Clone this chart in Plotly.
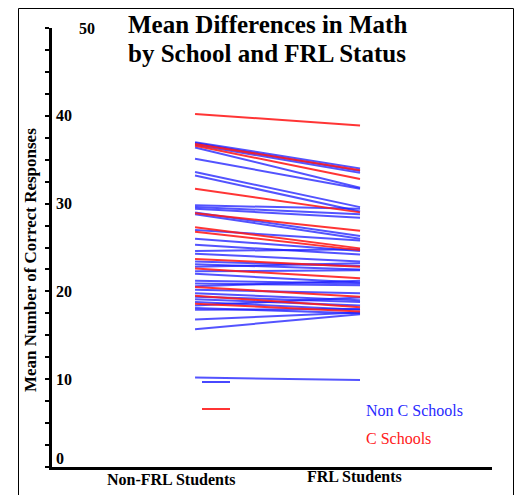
import plotly.graph_objects as go

# ---- data ----
groups = ["Non-FRL Students", "FRL Students"]

# Non C Schools: [Non-FRL mean, FRL mean]
non_c_nonfrl = [37.0, 36.9, 36.7, 36.4, 35.1, 33.6, 33.2, 29.8, 29.6, 29.4, 29.0, 28.8,
                27.0, 26.0, 25.3, 24.6, 24.3, 23.4, 23.1, 22.8, 22.3, 22.0, 21.2, 20.9,
                20.6, 20.2, 19.8, 19.4, 19.1, 18.8, 18.4, 18.1, 17.9, 16.8, 15.7, 10.2]
non_c_frl = [34.0, 33.7, 33.5, 31.8, 31.7, 29.6, 29.1, 29.4, 28.8, 28.4, 26.3, 26.0,
             25.8, 24.6, 24.2, 24.8, 23.4, 22.9, 22.5, 23.2, 22.4, 21.0, 20.9, 20.7,
             21.2, 19.8, 19.0, 18.8, 18.4, 17.9, 19.3, 17.5, 18.0, 17.6, 17.4, 9.9]

# C Schools
c_nonfrl = [40.2, 36.8, 36.6, 31.7, 28.9, 27.3, 26.8, 23.7, 22.6, 20.5, 19.5, 18.6]
c_frl = [38.9, 33.8, 32.8, 29.0, 26.9, 24.9, 24.7, 22.8, 21.5, 19.4, 18.2, 17.7]

y_tick_labels = [0, 10, 20, 30, 40, 50]
y_minor_ticks = [i * 2.5 for i in range(21)]

legend_names = ["Non C Schools", "C Schools"]
title_lines = ["Mean Differences in Math", "by School and FRL Status"]

# ---- styling ----
W, H = 518, 495
L, R, T, B = 52, 26, 28, 28
PW, PH = W - L - R, H - T - B
BLUE = "rgba(25,25,255,0.75)"
RED = "rgba(255,25,25,0.88)"
FONT = "Liberation Serif"


def px_x(px):
    return (px - L) / PW


def px_y(py):
    return (H - B - py) / PH


fig = go.Figure()
xs = [0, 1]
for a, b in zip(non_c_nonfrl, non_c_frl):
    fig.add_trace(go.Scatter(x=xs, y=[a, b], mode="lines",
                             line=dict(color=BLUE, width=2), showlegend=False,
                             hoverinfo="skip"))
for a, b in zip(c_nonfrl, c_frl):
    fig.add_trace(go.Scatter(x=xs, y=[a, b], mode="lines",
                             line=dict(color=RED, width=2), showlegend=False,
                             hoverinfo="skip"))

annotations = []
# title lines
for line, cy in zip(title_lines, [25, 53]):
    annotations.append(dict(text=line, x=px_x(267), y=px_y(cy), xref="paper", yref="paper",
                            xanchor="center", yanchor="middle", showarrow=False,
                            font=dict(family=FONT, size=25, color="black", weight="bold")))
# y tick labels
for v in y_tick_labels:
    if v == 50:
        xa, ys = px_x(77), 0
    elif v == 0:
        xa, ys = px_x(54), 9
    else:
        xa, ys = px_x(54), 0
    annotations.append(dict(text=str(v), x=xa, y=v, xref="paper", yref="y",
                            xanchor="left", yanchor="middle", yshift=ys, showarrow=False,
                            font=dict(family=FONT, size=16, color="black", weight="bold")))
# x category labels
for name, cx, cy in zip(groups, [171, 354], [479, 476]):
    annotations.append(dict(text=name, x=px_x(cx), y=px_y(cy), xref="paper", yref="paper",
                            xanchor="center", yanchor="middle", showarrow=False,
                            font=dict(family=FONT, size=16, color="black", weight="bold")))
# y axis title
annotations.append(dict(text="Mean Number of Correct Responses", x=px_x(30), y=px_y(260),
                        xref="paper", yref="paper", textangle=-90, showarrow=False,
                        xanchor="center", yanchor="middle",
                        font=dict(family=FONT, size=17, color="black", weight="bold")))
# legend texts
for name, col, cy in zip(legend_names, ["#2a2aff", "#ff2020"], [410, 438]):
    annotations.append(dict(text=name, x=px_x(364), y=px_y(cy), xref="paper", yref="paper",
                            xanchor="left", yanchor="middle", showarrow=False,
                            font=dict(family=FONT, size=16, color=col)))

shapes = [
    # outer frame
    dict(type="rect", xref="paper", yref="paper", x0=px_x(18.5), x1=px_x(513.5),
         y0=px_y(520), y1=px_y(8.5), line=dict(color="black", width=1)),
    # legend samples
    dict(type="line", xref="paper", yref="paper", x0=px_x(202), x1=px_x(230),
         y0=px_y(382), y1=px_y(382), line=dict(color="rgba(40,40,255,0.85)", width=2)),
    dict(type="line", xref="paper", yref="paper", x0=px_x(202), x1=px_x(230),
         y0=px_y(409), y1=px_y(409), line=dict(color="rgba(255,30,30,0.9)", width=2)),
]

fig.update_layout(
    width=W, height=H,
    margin=dict(l=L, r=R, t=T, b=B),
    paper_bgcolor="white", plot_bgcolor="white",
    xaxis=dict(range=[-0.867, 1.8], showgrid=False, zeroline=False, showticklabels=False,
               ticks="", showline=True, linecolor="black", linewidth=3),
    yaxis=dict(range=[0, 50], showgrid=False, zeroline=False, showticklabels=False,
               tickmode="array", tickvals=y_minor_ticks, ticks="outside", ticklen=4,
               tickwidth=1.5, tickcolor="black",
               showline=True, linecolor="black", linewidth=3),
    yaxis2=dict(range=[0, 50], overlaying="y", anchor="free", position=0, side="right",
                showgrid=False, zeroline=False, showticklabels=False,
                tickmode="array", tickvals=y_minor_ticks, ticks="outside", ticklen=3,
                tickwidth=1.5, tickcolor="black", showline=False),
    annotations=annotations,
    shapes=shapes,
    showlegend=False,
)

fig.write_html("out.html", config={"displayModeBar": False},
               post_script="document.body.style.margin='0';document.body.style.padding='0';")
